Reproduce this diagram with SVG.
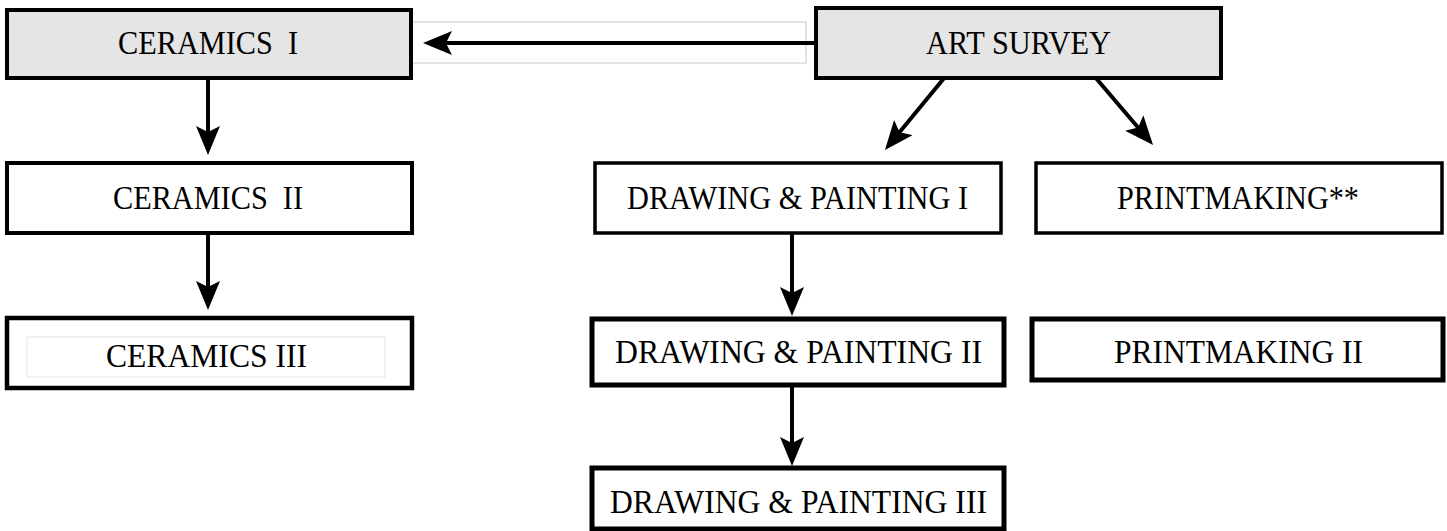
<svg xmlns="http://www.w3.org/2000/svg" width="1447" height="531" viewBox="0 0 1447 531">
<style>
.box{fill:#fff;stroke:#000;}
.shade{fill:#e5e5e5;}
.t{font-family:"Liberation Serif","Times New Roman",serif;font-size:33px;fill:#000;text-anchor:middle;white-space:pre;}
.c{stroke:#000;stroke-width:4;fill:none;marker-end:url(#ah);}
.faint{fill:none;stroke:#c8c8c8;stroke-width:1;}
</style>
<defs>
<marker id="ah" markerUnits="userSpaceOnUse" viewBox="0 0 29 24" markerWidth="29" markerHeight="24" refX="22" refY="12" orient="auto">
<path d="M0,0 L29,12 L0,24 L6,12 Z" fill="#000"/>
</marker>
</defs>
<rect class="faint" x="411" y="22" width="395" height="41"/>
<g id="ceramics1"><rect class="box shade" x="7" y="10" width="404" height="68" stroke-width="4"/><text class="t" x="208" y="54" textLength="180" lengthAdjust="spacingAndGlyphs" xml:space="preserve">CERAMICS  I</text></g>
<g id="artsurvey"><rect class="box shade" x="816" y="8" width="405" height="70" stroke-width="4"/><text class="t" x="1018.5" y="54" textLength="185" lengthAdjust="spacingAndGlyphs">ART SURVEY</text></g>
<g id="ceramics2"><rect class="box" x="7" y="163" width="405" height="70" stroke-width="4"/><text class="t" x="208" y="209" textLength="190" lengthAdjust="spacingAndGlyphs" xml:space="preserve">CERAMICS  II</text></g>
<g id="ceramics3"><rect class="box" x="7" y="318" width="405" height="70" stroke-width="4.5"/><rect fill="none" stroke="#e6e6e6" stroke-width="1" x="27" y="337" width="358" height="40"/><text class="t" x="206.5" y="367" textLength="201" lengthAdjust="spacingAndGlyphs">CERAMICS III</text></g>
<g id="dp1"><rect class="box" x="595" y="163" width="406" height="70" stroke-width="3.5"/><text class="t" x="797.5" y="209" textLength="341" lengthAdjust="spacingAndGlyphs">DRAWING &amp; PAINTING I</text></g>
<g id="dp2"><rect class="box" x="592" y="319" width="412" height="66" stroke-width="5"/><text class="t" x="798.5" y="363" textLength="367" lengthAdjust="spacingAndGlyphs">DRAWING &amp; PAINTING II</text></g>
<g id="dp3"><rect class="box" x="592" y="468" width="412" height="61" stroke-width="5"/><text class="t" x="798.5" y="513" textLength="377" lengthAdjust="spacingAndGlyphs">DRAWING &amp; PAINTING III</text></g>
<g id="pm1"><rect class="box" x="1036" y="163" width="406" height="70" stroke-width="3.5"/><text class="t" x="1238" y="209" textLength="242" lengthAdjust="spacingAndGlyphs">PRINTMAKING**</text></g>
<g id="pm2"><rect class="box" x="1032" y="319" width="411" height="61" stroke-width="5"/><text class="t" x="1238.5" y="363" textLength="249" lengthAdjust="spacingAndGlyphs">PRINTMAKING II</text></g>
<g id="connectors">
<line class="c" x1="816" y1="43" x2="430" y2="43"/>
<line class="c" x1="208" y1="78" x2="208" y2="148"/>
<line class="c" x1="208" y1="233" x2="208" y2="303"/>
<line class="c" x1="792" y1="233" x2="792" y2="309"/>
<line class="c" x1="792" y1="385" x2="792" y2="459"/>
<line class="c" x1="945" y1="77" x2="889.4" y2="144.6"/>
<line class="c" x1="1095" y1="77" x2="1148.5" y2="139.7"/>
</g>
</svg>
